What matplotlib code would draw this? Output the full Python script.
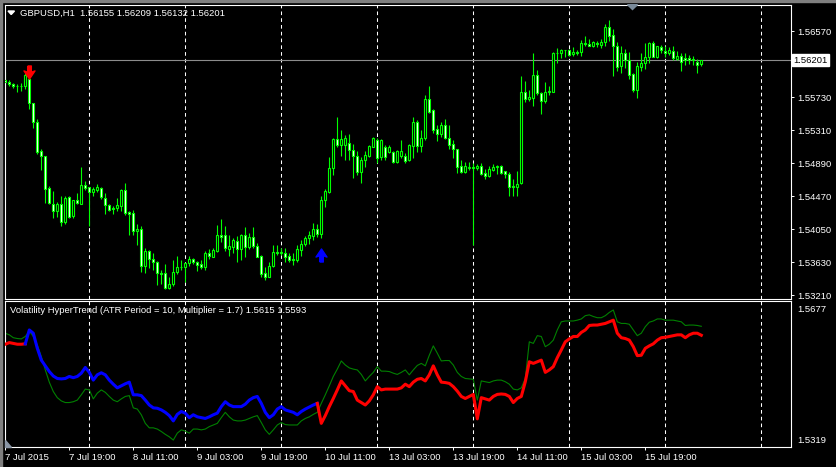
import matplotlib
matplotlib.use("Agg")
import matplotlib.pyplot as plt
from matplotlib.path import Path
from matplotlib.patches import Polygon
import numpy as np

# GBPUSD H1 bars (bar 0 = first visible bar)
opens = [
    1.5595, 1.5593, 1.5590, 1.5588, 1.5587, 1.5588, 1.5596, 1.5566, 1.5542, 1.5505,
    1.5499, 1.5458, 1.5438, 1.5429, 1.5437, 1.5415, 1.5446, 1.5422, 1.5442, 1.5438,
    1.5462, 1.5459, 1.5453, 1.5455, 1.5458, 1.5445, 1.5436, 1.5432, 1.5432, 1.5435,
    1.5455, 1.5427, 1.5426, 1.5403, 1.5405, 1.5359, 1.5378, 1.5367, 1.5363, 1.5350,
    1.5349, 1.5330, 1.5336, 1.5351, 1.5357, 1.5357, 1.5362, 1.5367, 1.5363, 1.5361,
    1.5357, 1.5375, 1.5370, 1.5378, 1.5398, 1.5398, 1.5380, 1.5383, 1.5390, 1.5380,
    1.5398, 1.5383, 1.5395, 1.5384, 1.5371, 1.5350, 1.5345, 1.5359, 1.5376, 1.5375,
    1.5375, 1.5371, 1.5367, 1.5366, 1.5379, 1.5387, 1.5394, 1.5397, 1.5406, 1.5399,
    1.5443, 1.5453, 1.5483, 1.5520, 1.5512, 1.5513, 1.5515, 1.5506, 1.5498, 1.5478,
    1.5494, 1.5498, 1.5510, 1.5519, 1.5497, 1.5510, 1.5503, 1.5503, 1.5491, 1.5498,
    1.5498, 1.5493, 1.5511, 1.5542, 1.5511, 1.5522, 1.5571, 1.5557, 1.5533, 1.5527,
    1.5538, 1.5522, 1.5514, 1.5507, 1.5486, 1.5478, 1.5483, 1.5484, 1.5483, 1.5486,
    1.5477, 1.5473, 1.5481, 1.5484, 1.5486, 1.5479, 1.5476, 1.5460, 1.5459, 1.5464,
    1.5580, 1.5571, 1.5572, 1.5602, 1.5578, 1.5568, 1.5580, 1.5580, 1.5630, 1.5630,
    1.5633, 1.5633, 1.5628, 1.5631, 1.5631, 1.5642, 1.5641, 1.5639, 1.5642, 1.5640,
    1.5644, 1.5662, 1.5652, 1.5638, 1.5613, 1.5629, 1.5620, 1.5603, 1.5583, 1.5612,
    1.5617, 1.5624, 1.5642, 1.5625, 1.5637, 1.5632, 1.5629, 1.5632, 1.5622, 1.5626,
    1.5623, 1.5623, 1.5622, 1.5618, 1.56155]
highs = [
    1.5605, 1.5595, 1.5591, 1.5590, 1.5591, 1.5604, 1.5597, 1.5566, 1.5546, 1.5508,
    1.5499, 1.5460, 1.5454, 1.5440, 1.5447, 1.5447, 1.5447, 1.5443, 1.5451, 1.5484,
    1.5467, 1.5459, 1.5459, 1.5463, 1.5459, 1.5451, 1.5437, 1.5435, 1.5445, 1.5457,
    1.5464, 1.5429, 1.5430, 1.5412, 1.5409, 1.5381, 1.5379, 1.5375, 1.5365, 1.5354,
    1.5361, 1.5345, 1.5366, 1.5371, 1.5366, 1.5364, 1.5371, 1.5369, 1.5365, 1.5366,
    1.5377, 1.5380, 1.5381, 1.5411, 1.5418, 1.5409, 1.5398, 1.5394, 1.5397, 1.5399,
    1.5408, 1.5401, 1.5408, 1.5388, 1.5372, 1.5357, 1.5363, 1.5385, 1.5385, 1.5381,
    1.5381, 1.5375, 1.5375, 1.5385, 1.5392, 1.5397, 1.5403, 1.5413, 1.5412, 1.5448,
    1.5457, 1.5497, 1.5522, 1.5548, 1.5532, 1.5525, 1.5526, 1.5514, 1.5505, 1.5497,
    1.5505, 1.5512, 1.5523, 1.5521, 1.5520, 1.5512, 1.5512, 1.5505, 1.5506, 1.5519,
    1.5502, 1.5514, 1.5548, 1.5544, 1.5532, 1.5576, 1.5587, 1.5558, 1.5538, 1.5542,
    1.5545, 1.5538, 1.5519, 1.5508, 1.5493, 1.5491, 1.5491, 1.5489, 1.5488, 1.5490,
    1.5482, 1.5486, 1.5488, 1.5487, 1.5487, 1.5480, 1.5478, 1.5469, 1.5480, 1.5600,
    1.5594, 1.5583, 1.5630, 1.5608, 1.5580, 1.5592, 1.5588, 1.5631, 1.5636, 1.5634,
    1.5633, 1.5634, 1.5637, 1.5633, 1.5646, 1.5651, 1.5647, 1.5645, 1.5645, 1.5647,
    1.5666, 1.5672, 1.5660, 1.5644, 1.5638, 1.5634, 1.5631, 1.5604, 1.5618, 1.5629,
    1.5642, 1.5643, 1.5645, 1.5638, 1.5640, 1.5638, 1.5637, 1.5638, 1.5632, 1.5629,
    1.5629, 1.5627, 1.5626, 1.5622, 1.56209]
lows = [
    1.5587, 1.5588, 1.5585, 1.5580, 1.5581, 1.5584, 1.5558, 1.5534, 1.5501, 1.5481,
    1.5439, 1.5437, 1.5419, 1.5421, 1.5410, 1.5412, 1.5419, 1.5420, 1.5438, 1.5438,
    1.5455, 1.5409, 1.5447, 1.5453, 1.5444, 1.5425, 1.5428, 1.5425, 1.5429, 1.5429,
    1.5423, 1.5398, 1.5398, 1.5385, 1.5351, 1.5349, 1.5356, 1.5354, 1.5334, 1.5336,
    1.5329, 1.5329, 1.5333, 1.5348, 1.5354, 1.5338, 1.5359, 1.5361, 1.5352, 1.5355,
    1.5354, 1.5368, 1.5370, 1.5376, 1.5389, 1.5377, 1.5371, 1.5375, 1.5363, 1.5366,
    1.5370, 1.5380, 1.5382, 1.5370, 1.5345, 1.5341, 1.5344, 1.5357, 1.5372, 1.5372,
    1.5364, 1.5364, 1.5360, 1.5364, 1.5371, 1.5384, 1.5387, 1.5392, 1.5396, 1.5394,
    1.5434, 1.5451, 1.5474, 1.5510, 1.5498, 1.5494, 1.5493, 1.5471, 1.5474, 1.5464,
    1.5485, 1.5497, 1.5510, 1.5489, 1.5494, 1.5493, 1.5502, 1.5489, 1.5489, 1.5496,
    1.5490, 1.5492, 1.5496, 1.5503, 1.5503, 1.5519, 1.5553, 1.5528, 1.5517, 1.5523,
    1.5520, 1.5507, 1.5496, 1.5477, 1.5477, 1.5477, 1.5481, 1.5385, 1.5481, 1.5474,
    1.5469, 1.5472, 1.5480, 1.5476, 1.5476, 1.5470, 1.5448, 1.5448, 1.5448, 1.5463,
    1.5567, 1.5568, 1.5562, 1.5576, 1.5552, 1.5566, 1.5576, 1.5580, 1.5617, 1.5623,
    1.5625, 1.5626, 1.5626, 1.5627, 1.5626, 1.5638, 1.5638, 1.5637, 1.5637, 1.5636,
    1.5638, 1.5645, 1.5600, 1.5606, 1.5604, 1.5611, 1.5597, 1.5580, 1.5572, 1.5607,
    1.5609, 1.5617, 1.5624, 1.5623, 1.5630, 1.5625, 1.5627, 1.5621, 1.5621, 1.5606,
    1.5614, 1.5616, 1.5614, 1.5604, 1.56132]
closes = [
    1.5593, 1.5590, 1.5588, 1.5587, 1.5588, 1.5602, 1.5566, 1.5542, 1.5504, 1.5498,
    1.5457, 1.5439, 1.5429, 1.5437, 1.5415, 1.5445, 1.5421, 1.5442, 1.5439, 1.5462,
    1.5458, 1.5453, 1.5456, 1.5459, 1.5446, 1.5436, 1.5430, 1.5431, 1.5436, 1.5455,
    1.5426, 1.5425, 1.5403, 1.5406, 1.5359, 1.5378, 1.5367, 1.5363, 1.5349, 1.5348,
    1.5330, 1.5336, 1.5351, 1.5357, 1.5357, 1.5362, 1.5367, 1.5363, 1.5360, 1.5357,
    1.5375, 1.5371, 1.5379, 1.5398, 1.5396, 1.5381, 1.5384, 1.5391, 1.5380, 1.5398,
    1.5383, 1.5395, 1.5384, 1.5370, 1.5348, 1.5344, 1.5359, 1.5376, 1.5375, 1.5376,
    1.5370, 1.5366, 1.5366, 1.5380, 1.5387, 1.5394, 1.5398, 1.5406, 1.5399, 1.5443,
    1.5454, 1.5483, 1.5520, 1.5512, 1.5520, 1.5521, 1.5506, 1.5498, 1.5478, 1.5494,
    1.5500, 1.5511, 1.5521, 1.5496, 1.5519, 1.5497, 1.5510, 1.5491, 1.5505, 1.5505,
    1.5492, 1.5512, 1.5542, 1.5511, 1.5522, 1.5571, 1.5555, 1.5532, 1.5527, 1.5538,
    1.5521, 1.5512, 1.5507, 1.5485, 1.5478, 1.5486, 1.5485, 1.5483, 1.5486, 1.5476,
    1.5473, 1.5482, 1.5485, 1.5486, 1.5477, 1.5476, 1.5459, 1.5459, 1.5463, 1.5580,
    1.5571, 1.5573, 1.5602, 1.5578, 1.5568, 1.5580, 1.5581, 1.5630, 1.5630, 1.5633,
    1.5633, 1.5627, 1.5631, 1.5630, 1.5642, 1.5641, 1.5639, 1.5643, 1.5641, 1.5644,
    1.5662, 1.5651, 1.5638, 1.5612, 1.5629, 1.5620, 1.5602, 1.5582, 1.5613, 1.5617,
    1.5624, 1.5642, 1.5625, 1.5638, 1.5633, 1.5630, 1.5633, 1.5623, 1.5626, 1.5618,
    1.5620, 1.5621, 1.5620, 1.5614, 1.56201]

# Volatility HyperTrend buffers
trend = [
    1.5571, 1.5575, 1.5573, 1.5571, 1.5571, 1.5572, 1.5606, 1.5598, 1.5561, 1.5532,
    1.5518, 1.5504, 1.5493, 1.5487, 1.5486, 1.5487, 1.5492, 1.5489, 1.5492, 1.5500,
    1.5514, 1.5502, 1.5483, 1.5496, 1.5501, 1.5496, 1.5483, 1.5473, 1.5464, 1.5469,
    1.5474, 1.5478, 1.5447, 1.5447, 1.5445, 1.5434, 1.5422, 1.5415, 1.5414, 1.5410,
    1.5404, 1.5396, 1.5383, 1.5399, 1.5406, 1.5402, 1.5391, 1.5398, 1.5393, 1.5391,
    1.5389, 1.5393, 1.5398, 1.5402, 1.5418, 1.5430, 1.5422, 1.5418, 1.5418, 1.5418,
    1.5424, 1.5434, 1.5440, 1.5443, 1.5426, 1.5404, 1.5391, 1.5398, 1.5412, 1.5418,
    1.5410, 1.5407, 1.5404, 1.5398, 1.5406, 1.5412, 1.5417, 1.5422, 1.5426, 1.5377,
    1.5396, 1.5418, 1.5438, 1.5459, 1.5481, 1.5469, 1.5457, 1.5455, 1.5434, 1.5428,
    1.5422, 1.5432, 1.5447, 1.5467, 1.5459, 1.5461, 1.5461, 1.5461, 1.5461, 1.5464,
    1.5473, 1.5467, 1.5478, 1.5485, 1.5487, 1.5481, 1.5496, 1.5518, 1.5496, 1.5478,
    1.5477, 1.5475, 1.5467, 1.5456, 1.5443, 1.5438, 1.5443, 1.5448, 1.5388, 1.5440,
    1.5437, 1.5434, 1.5443, 1.5448, 1.5449, 1.5448, 1.5443, 1.5428, 1.5438, 1.5443,
    1.5479, 1.5528, 1.5524, 1.5528, 1.5532, 1.5502, 1.5508, 1.5516, 1.5538, 1.5557,
    1.5577, 1.5584, 1.5590, 1.5590, 1.5600, 1.5606, 1.5617, 1.5618, 1.5618, 1.5620,
    1.5622, 1.5626, 1.5630, 1.5598, 1.5587, 1.5585, 1.5581, 1.5565, 1.5543, 1.5544,
    1.5561, 1.5567, 1.5572, 1.5581, 1.5587, 1.5588, 1.5590, 1.5592, 1.5594, 1.5594,
    1.5587, 1.5594, 1.5598, 1.5598, 1.5593]
band = [
    1.5598, 1.5594, 1.5587, 1.5585, 1.5584, 1.5590, 1.5603, 1.5590, 1.5569, 1.5541,
    1.5508, 1.5478, 1.5455, 1.5440, 1.5432, 1.5428, 1.5428, 1.5430, 1.5434, 1.5447,
    1.5461, 1.5459, 1.5437, 1.5451, 1.5459, 1.5453, 1.5443, 1.5434, 1.5430, 1.5437,
    1.5443, 1.5445, 1.5415, 1.5412, 1.5398, 1.5377, 1.5366, 1.5366, 1.5363, 1.5357,
    1.5350, 1.5344, 1.5336, 1.5353, 1.5361, 1.5358, 1.5353, 1.5363, 1.5363, 1.5361,
    1.5363, 1.5369, 1.5373, 1.5377, 1.5391, 1.5404, 1.5393, 1.5385, 1.5383, 1.5383,
    1.5385, 1.5389, 1.5393, 1.5396, 1.5379, 1.5361, 1.5350, 1.5361, 1.5373, 1.5379,
    1.5374, 1.5373, 1.5373, 1.5373, 1.5383, 1.5389, 1.5393, 1.5399, 1.5404, 1.5426,
    1.5447, 1.5469, 1.5492, 1.5510, 1.5530, 1.5520, 1.5513, 1.5510, 1.5508, 1.5497,
    1.5481, 1.5492, 1.5502, 1.5516, 1.5505, 1.5505, 1.5504, 1.5500, 1.5497, 1.5502,
    1.5508, 1.5496, 1.5508, 1.5519, 1.5524, 1.5518, 1.5544, 1.5567, 1.5549, 1.5530,
    1.5531, 1.5531, 1.5520, 1.5502, 1.5492, 1.5487, 1.5486, 1.5485, 1.5434, 1.5481,
    1.5479, 1.5477, 1.5481, 1.5483, 1.5483, 1.5479, 1.5473, 1.5461, 1.5459, 1.5464,
    1.5487, 1.5577, 1.5573, 1.5592, 1.5590, 1.5565, 1.5571, 1.5581, 1.5606, 1.5626,
    1.5628, 1.5628, 1.5628, 1.5630, 1.5633, 1.5641, 1.5643, 1.5639, 1.5636, 1.5636,
    1.5641, 1.5649, 1.5655, 1.5626, 1.5622, 1.5622, 1.5620, 1.5606, 1.5592, 1.5598,
    1.5614, 1.5625, 1.5628, 1.5633, 1.5633, 1.5630, 1.5630, 1.5630, 1.5628, 1.5626,
    1.5617, 1.5618, 1.5618, 1.5617, 1.5615]
# bars where the trend line is in its down (blue) state
down_from, down_to = 5, 78

sell_bar, sell_price = 6, 1.5605
buy_bar, buy_price = 79, 1.5372

# 1.56150 sits under the current price box, so it is left out
price_ticks = [1.5657, 1.5573, 1.5531, 1.5489, 1.5447, 1.5405, 1.5363, 1.5321]
ind_max, ind_min = 1.5677, 1.5319
date_ticks = [0, 16, 32, 48, 64, 80, 96, 112, 128, 144, 160]
date_labels = ["7 Jul 2015", "7 Jul 19:00", "8 Jul 11:00", "9 Jul 03:00", "9 Jul 19:00",
               "10 Jul 11:00", "13 Jul 03:00", "13 Jul 19:00", "14 Jul 11:00",
               "15 Jul 03:00", "15 Jul 19:00"]

plt.rcParams["font.family"] = ["Liberation Sans", "DejaVu Sans"]
W, H = 836, 467
FS = 6.8
fig = plt.figure(figsize=(W / 100, H / 100), dpi=100, facecolor="black")

def fx(px):
    return px / W

def fy(py):
    return 1 - py / H

ax = fig.add_axes([fx(4.5), fy(299.3), (791 - 4.5) / W, (299.3 - 4.7) / H])
ax2 = fig.add_axes([fx(4.5), fy(447), (791 - 4.5) / W, (447 - 301) / H])

n = len(closes)
x = np.arange(n)
o = np.array(opens); h = np.array(highs); l = np.array(lows); c = np.array(closes)

for a in (ax, ax2):
    a.set_facecolor("black")
    a.set_xlim(-0.2, 196.425)
    for s in a.spines.values():
        s.set_color("white")
        s.set_linewidth(0.8)
    for g in range(21, 196, 24):
        a.axvline(g, color="white", lw=0.75, ls=(0, (3.5, 3)), zorder=1)

# candles
ax.vlines(x, l, h, color="#00ff00", lw=0.8, zorder=2)
bull = c >= o
body_lo = np.minimum(o, c)
body_h = np.maximum(np.abs(c - o), 0.00001)
ax.bar(x, body_h, bottom=body_lo, width=0.5,
       color=np.where(bull, "black", "white"), edgecolor="#00ff00", lw=0.8, zorder=3)

ax.axhline(closes[-1], color="#8c8c8c", lw=0.8, zorder=1)
ax.set_ylim(1.53161, 1.56910)
ax.yaxis.tick_right()
ax.set_yticks(price_ticks)
ax.set_yticklabels(["%.5f" % p for p in price_ticks])
ax.tick_params(axis="y", colors="white", length=2.2, width=0.7, pad=2, labelsize=FS)
ax.set_xticks([])

down_arrow = Path([(-0.14, 0.5), (0.14, 0.5), (0.14, 0.02), (0.42, 0.12), (0.0, -0.5),
                   (-0.42, 0.12), (-0.14, 0.02), (-0.14, 0.5)])
up_arrow = Path([(vx, -vy) for vx, vy in down_arrow.vertices])
ax.plot([sell_bar], [sell_price], marker=down_arrow, ms=9.4, color="red", ls="none", zorder=4)
ax.plot([buy_bar], [buy_price], marker=up_arrow, ms=9.4, color="blue", ls="none", zorder=4)

ax.text(1 + 2 / 786.5, closes[-1], "%.5f" % closes[-1], transform=ax.get_yaxis_transform(),
        ha="left", va="center", fontsize=FS, color="black", clip_on=False,
        bbox=dict(boxstyle="square,pad=0.15", fc="white", ec="white"))

fig.text(fx(20), fy(13), "GBPUSD,H1  1.56155 1.56209 1.56132 1.56201",
         color="white", fontsize=FS, va="center", ha="left")

# indicator window
tr = np.array(trend)
ax2.plot(x, band, color="#008000", lw=0.8, zorder=2)
ax2.plot(x[:down_from + 1], tr[:down_from + 1], color="red", lw=2.2, zorder=3)
ax2.plot(x[down_from:down_to + 1], tr[down_from:down_to + 1], color="blue", lw=2.2, zorder=3)
ax2.plot(x[down_to:], tr[down_to:], color="red", lw=2.2, zorder=3)
ax2.set_ylim(ind_min, ind_max)
ax2.set_yticks([])
ax2.set_xticks(date_ticks)
ax2.set_xticklabels(date_labels, ha="left")
ax2.tick_params(axis="x", colors="white", length=2.5, width=0.7, pad=1.5, labelsize=FS)

fig.text(fx(10), fy(310.5), "Volatility HyperTrend (ATR Period = 10, Multiplier = 1.7) %.4f %.4f"
         % (band[-1], trend[-1]), color="white", fontsize=FS, va="center", ha="left")
fig.text(fx(797), fy(309.5), "%.4f" % ind_max, color="white", fontsize=FS, va="center", ha="left")
fig.text(fx(797), fy(440.5), "%.4f" % ind_min, color="white", fontsize=FS, va="center", ha="left")

# window decorations
fig.patches.append(Polygon([(fx(8), fy(11)), (fx(14.5), fy(11)), (fx(11.2), fy(14.5))],
                           closed=True, color="white", transform=fig.transFigure))
fig.patches.append(Polygon([(fx(627.5), fy(4.7)), (fx(637.5), fy(4.7)), (fx(632.5), fy(9.5))],
                           closed=True, color="#7a8a99", transform=fig.transFigure))
fig.patches.append(Polygon([(fx(4.8), fy(440)), (fx(4.8), fy(446.8)), (fx(11), fy(446.8))],
                           closed=True, color="#8a96a6", transform=fig.transFigure))
fig.patches.append(Polygon([(0, 1), (1, 1), (1, fy(2)), (fx(2), fy(2)), (fx(2), 0), (0, 0)],
                           closed=True, color="#7f7f7f", transform=fig.transFigure))

fig.savefig("out.png", dpi=100, facecolor="black")
